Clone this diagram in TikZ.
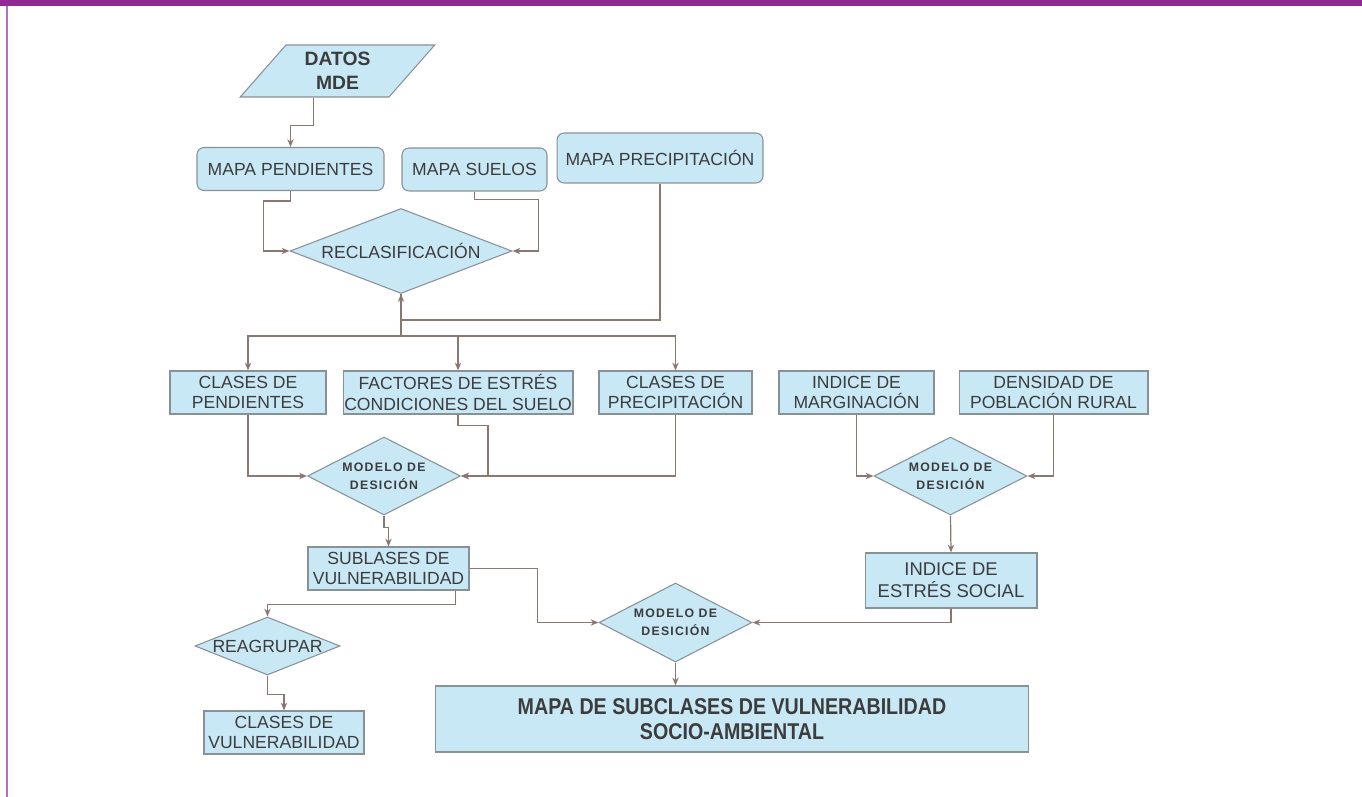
\documentclass[tikz,border=0pt]{standalone}
\usepackage{fontspec}
\setmainfont{Liberation Sans}
\newfontfamily\spacedfont[LetterSpace=10]{Liberation Sans}
\newfontfamily\narrowfont[FakeStretch=0.86]{Liberation Sans}
\usetikzlibrary{calc,shapes.geometric,arrows.meta}
\definecolor{framepurple}{RGB}{142,42,146}
\definecolor{framelight}{RGB}{178,112,190}
\definecolor{boxfill}{RGB}{200,232,246}
\definecolor{boxline}{RGB}{135,145,150}
\definecolor{linkcol}{RGB}{140,118,114}
\definecolor{txt}{RGB}{60,60,60}
\tikzset{
  box/.style={draw=boxline, fill=boxfill, line width=0.6pt, inner sep=0pt, align=center,
    text=txt, font=\fontsize{10}{11.5}\selectfont, minimum height=0.86cm},
  roundbox/.style={box, rounded corners=4pt},
  decision/.style={box, diamond},
  model/.style={decision, shape aspect=1.96, minimum width=3.06cm, minimum height=1.56cm,
    font=\spacedfont\bfseries\fontsize{7}{10.2}\selectfont},
  conn/.style={draw=linkcol, line width=0.7pt, -{Stealth[length=4.5pt,width=3.6pt]}},
  link/.style={draw=linkcol, line width=0.7pt},
}
\begin{document}
\begin{tikzpicture}[x=0.02cm, y=-0.02cm]
			%%%%% START %%%%%
			\useasboundingbox (0,0) rectangle (1362,797);
			\fill[framepurple] (0,0) rectangle (1362,6);
			\draw[framelight, line width=1.1pt] (7,6) -- (7,797);
			
			% upper part
			\node[box, trapezium, trapezium left angle=52, trapezium right angle=128, trapezium stretches=true,
			      minimum width=3.9cm, minimum height=1.04cm, font=\bfseries\fontsize{11}{13.6}\selectfont] (datos) at (337.5,71) {DATOS\\MDE};
			\node[roundbox, minimum width=3.74cm] (mpend) at (290.5,169) {MAPA PENDIENTES};
			\node[roundbox, minimum width=2.9cm] (msuel) at (474.5,169.5) {MAPA SUELOS};
			\node[roundbox, minimum width=4.12cm, minimum height=1cm] (mprec) at (660,158) {MAPA PRECIPITACIÓN};
			\node[decision, shape aspect=2.64, minimum width=4.44cm, minimum height=1.7cm] (reclas) at (401,251) {RECLASIFICACIÓN};
			
			\draw[conn] ($(datos.south)+(-24,0)$) -- ++(0,28) -| (mpend);
			\draw[conn] (mpend.south) -- ++(0,10) -- ++(-27,0) |- (reclas.west);
			\draw[conn] (msuel.south) -- ++(0,8) -- ++(64,0) |- (reclas.east);
			\draw[conn] (mprec.south) |- ($(reclas.south)+(0,26)$) -- (reclas.south);
			
			% classes
			\node[box, minimum width=3.12cm] (cpend) at (248,392.5) {CLASES DE\\PENDIENTES};
			\node[box, minimum width=4.6cm] (fact) at (458,392.5) {FACTORES DE ESTRÉS\\CONDICIONES DEL SUELO};
			\node[box, minimum width=3.06cm] (cprec) at (675.5,392.5) {CLASES DE\\PRECIPITACIÓN};
			\node[box, minimum width=3.1cm] (imarg) at (856.5,392.5) {INDICE DE\\MARGINACIÓN};
			\node[box, minimum width=3.78cm] (dens) at (1053.5,392.5) {DENSIDAD DE\\POBLACIÓN RURAL};
			
			\draw[conn] (reclas.south) -- ++(0,42) -| (cpend);
			\draw[conn] (reclas.south) -- ++(0,42) -| (fact);
			\draw[conn] (reclas.south) -- ++(0,42) -| (cprec);
			
			% decisions
			\node[model] (mod1) at (384,476) {MODELO DE\\DESICIÓN};
			\node[model] (mod2) at (950.5,476) {MODELO DE\\DESICIÓN};
			
			\draw[conn] (cpend.south) |- (mod1.west);
			\draw[conn] (fact.south) -- ++(0,11) -- ++(30,0) |- (mod1.east);
			\draw[conn] (cprec.south) |- (mod1.east);
			\draw[conn] (imarg.south) |- (mod2.west);
			\draw[conn] (dens.south) |- (mod2.east);
			
			\node[box, minimum width=3.22cm] (sub) at (388.5,568.5) {SUBLASES DE\\VULNERABILIDAD};
			\node[box, minimum width=3.44cm, minimum height=1.1cm, font=\fontsize{10.5}{12.5}\selectfont] (iest) at (951,580.5) {INDICE DE\\ESTRÉS SOCIAL};
			\node[model, minimum height=1.58cm] (mod3) at (675.5,622.5) {MODELO DE\\DESICIÓN};
			
			\draw[conn] (mod1.south) -- ++(0,12) -| (sub.north);
			\draw[conn] (mod2.south) -- (iest.north);
			\draw[conn] (iest.south) |- (mod3.east);
			\draw[conn] (sub.east) -- ++(68,0) |- (mod3.west);
			
			% bottom
			\node[decision, shape aspect=2.5, minimum width=2.9cm, minimum height=1.16cm] (reag) at (267.5,646) {REAGRUPAR};
			\node[box, minimum width=3.2cm] (cvul) at (284,732.5) {CLASES DE\\VULNERABILIDAD};
			\node[box, minimum width=11.88cm, minimum height=1.32cm,
			      font=\narrowfont\bfseries\fontsize{13}{14}\selectfont] (mapa) at (732,719) {MAPA DE SUBCLASES DE VULNERABILIDAD\\SOCIO-AMBIENTAL};
			
			\draw[conn] ($(sub.south)+(67,0)$) -- ++(0,14) -| (reag.north);
			\draw[conn] (reag.south) -- ++(0,19) -| (cvul.north);
			\draw[conn] (mod3.south) -- (mod3.south |- mapa.north);
			%%%%% END %%%%%
\end{tikzpicture}
\end{document}
